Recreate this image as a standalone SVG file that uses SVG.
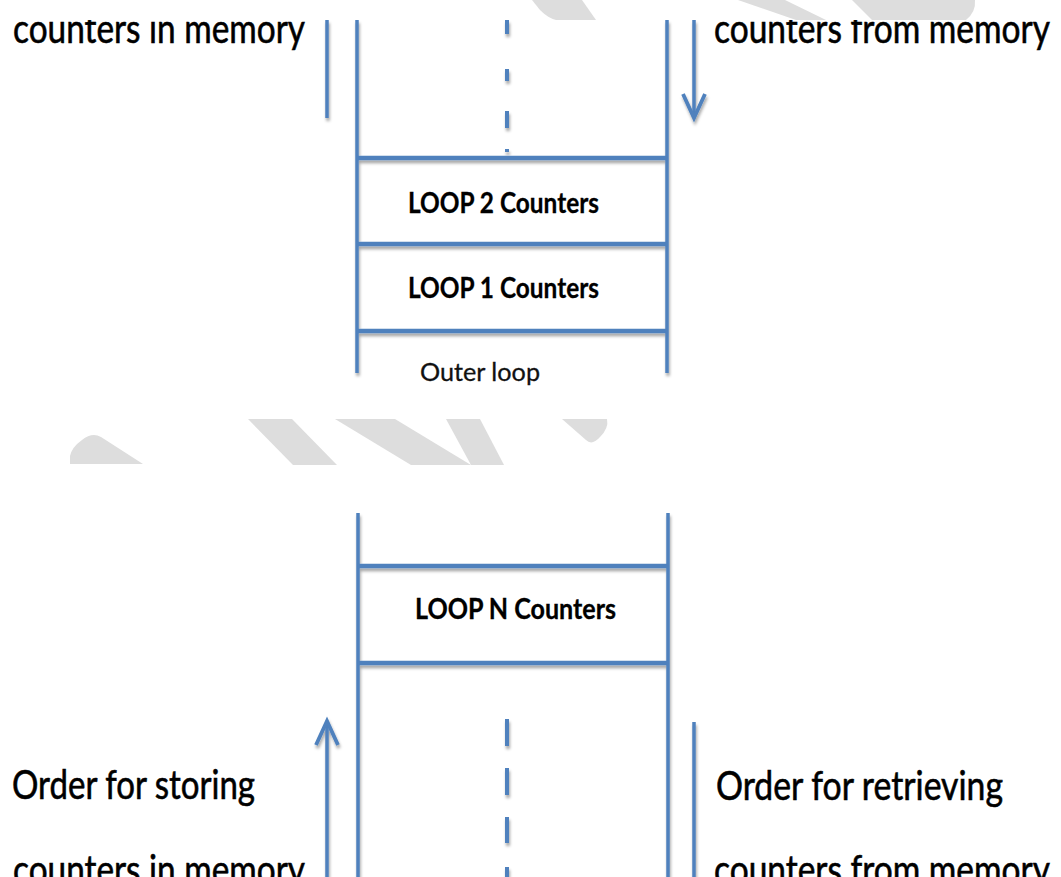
<svg xmlns="http://www.w3.org/2000/svg" width="1061" height="877" viewBox="0 0 1061 877">
  <defs>
    <style>
      .ln { stroke: #4f81bd; stroke-width: 3.5; fill: none; stroke-linecap: butt; }
      .hl { stroke: #4f81bd; stroke-width: 4.5; fill: none; }
      .dash { stroke: #4f81bd; stroke-width: 4; fill: none; }
      .big { font-family: Lato, "Liberation Sans", sans-serif; font-size: 40px; fill: #000; stroke: #000; stroke-width: 0.6px; }
      .loop { font-family: Lato, "Liberation Sans", sans-serif; font-size: 28px; font-weight: bold; fill: #000; stroke: #000; stroke-width: 0.3px; }
      .small { font-family: Lato, "Liberation Sans", sans-serif; font-size: 24.5px; fill: #111; stroke: #111; stroke-width: 0.3px; }
      .wm { fill: #dddddd; }
    </style>
    <filter id="sh" filterUnits="userSpaceOnUse" x="0" y="0" width="1061" height="877">
      <feDropShadow dx="1" dy="3" stdDeviation="1.6" flood-color="#000" flood-opacity="0.35"/>
    </filter>
    <marker id="head" markerUnits="userSpaceOnUse" viewBox="-30 -15 34 30" refX="0" refY="0" markerWidth="34" markerHeight="30" orient="auto" overflow="visible">
      <path d="M-24,-11 L0,0 L-24,11" fill="none" stroke="#4f81bd" stroke-width="3.8" stroke-linejoin="miter"/>
    </marker>
    <clipPath id="topclip">
      <rect x="0" y="20" width="1061" height="857"/>
    </clipPath>
  </defs>
  <rect width="1061" height="877" fill="#ffffff"/>

  <g id="watermark">
    <path class="wm" d="M532,0 L582,0 L596,20 L556,20 Q548,18 540,10 Z"/>
    <path class="wm" d="M738,0 L785,0 L826,20 L796,20 Z"/>
    <path class="wm" d="M852,0 L975,0 Q976,12 966,20 L872,20 Z"/>
    <path class="wm" d="M70,464 L70,456 Q72,447 82,440 Q92,432 101,437 L143,464 Z"/>
    <path class="wm" d="M248,419 L292,419 L337,465 L293,465 Z"/>
    <path class="wm" d="M335,419 L395,419 L471,465 L411,465 Z"/>
    <path class="wm" d="M446,419 L480,419 L504,465 L471,465 Z"/>
    <path class="wm" d="M562,419 L607,419 Q609,428 600,437 Q592,446 586,440 Z"/>
  </g>

  <g id="top-stack" filter="url(#sh)">
    <path class="ln" d="M357,20 V373 M667,20 V373"/>
    <path class="hl" d="M357,158 H667 M357,244 H667 M357,331 H667"/>
    <path class="dash" d="M507,20 V34 M507,69 V81 M507,111 V128 M507,149 V152"/>
  </g>
  <g id="top-frame-2">
    <text class="loop" x="408" y="213" textLength="191" lengthAdjust="spacingAndGlyphs">LOOP 2 Counters</text>
  </g>
  <g id="top-frame-1">
    <text class="loop" x="408" y="298" textLength="191" lengthAdjust="spacingAndGlyphs">LOOP 1 Counters</text>
  </g>
  <g id="outer-loop">
    <text class="small" x="420" y="381" textLength="120" lengthAdjust="spacingAndGlyphs">Outer loop</text>
  </g>

  <g id="bottom-stack" filter="url(#sh)">
    <path class="ln" d="M358,513 V877 M668,513 V877"/>
    <path class="hl" d="M358,566 H668 M358,663 H668"/>
    <path class="dash" d="M507,719 V746 M507,768 V795 M507,817 V843 M507,867 V877"/>
  </g>
  <g id="frame-n">
    <text class="loop" x="415" y="619" textLength="201" lengthAdjust="spacingAndGlyphs">LOOP N Counters</text>
  </g>

  <g id="connectors" filter="url(#sh)">
    <path class="ln" d="M327,20 V118"/>
    <path class="ln" d="M694,20 V118" marker-end="url(#head)"/>
    <path class="ln" d="M327,877 V721" marker-end="url(#head)"/>
    <path class="ln" d="M694,722 V877"/>
  </g>

  <g id="labels">
    <g clip-path="url(#topclip)">
      <text class="big" x="13" y="43" textLength="292" lengthAdjust="spacingAndGlyphs">counters in memory</text>
      <text class="big" x="714" y="43" textLength="336" lengthAdjust="spacingAndGlyphs">counters from memory</text>
    </g>
    <text class="big" x="12" y="799" textLength="243" lengthAdjust="spacingAndGlyphs">Order for storing</text>
    <text class="big" x="716" y="800" textLength="287" lengthAdjust="spacingAndGlyphs">Order for retrieving</text>
    <text class="big" x="13" y="884" textLength="292" lengthAdjust="spacingAndGlyphs">counters in memory</text>
    <text class="big" x="714" y="884" textLength="336" lengthAdjust="spacingAndGlyphs">counters from memory</text>
  </g>
</svg>
